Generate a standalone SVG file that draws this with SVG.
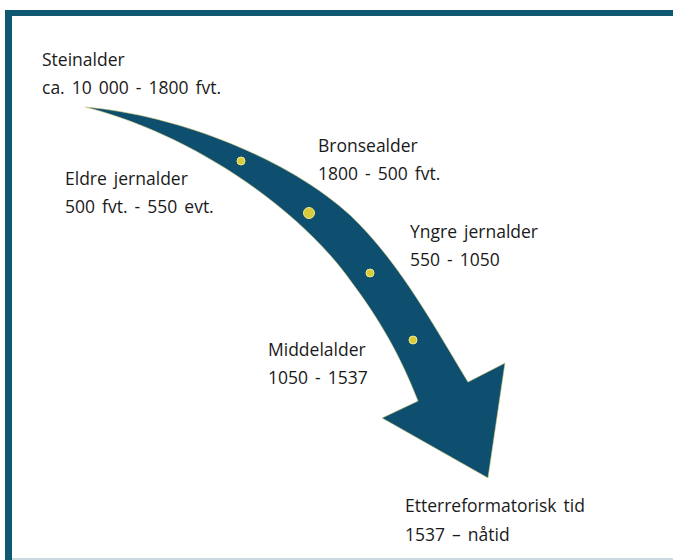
<svg xmlns="http://www.w3.org/2000/svg" width="673" height="560" viewBox="0 0 673 560">
<style>
.lbl{font-family:"Open Sans","Noto Sans","Liberation Sans",sans-serif;font-size:17.5px;fill:#1a1a1a;word-spacing:2.5px}
.dot{fill:#d8cc3c;stroke:#f0e890;stroke-width:1}
</style>
<rect x="0" y="0" width="673" height="560" fill="#ffffff"/>
<g id="frame">
<rect x="5" y="10" width="668" height="6" fill="#0f5872"/>
<rect x="5" y="10" width="7" height="550" fill="#0f5872"/>
<rect x="12" y="558" width="661" height="2" fill="#c9d9e2"/>
</g>
<g id="connectors">
<path id="arrow" d="M85,107 C180,115 290,160 350,215 C395,258 425,310 468,382 L505,363 L488,478 L382,418 L418,401 C400,355 380,320 350,280 C300,210 195,135 85,107 Z" fill="#0e4e6e" stroke="#d8d27a" stroke-width="0.6"/>
<circle class="dot" cx="241" cy="161" r="4"/>
<circle class="dot" cx="309" cy="213" r="5.5"/>
<circle class="dot" cx="370" cy="273" r="4"/>
<circle class="dot" cx="413" cy="340" r="4"/>
</g>
<g id="steinalder"><text class="lbl" x="42" y="66">Steinalder</text><text class="lbl" x="42" y="94">ca. 10 000 - 1800 fvt.</text></g>
<g id="eldre-jernalder"><text class="lbl" x="65" y="185">Eldre jernalder</text><text class="lbl" x="65" y="213">500 fvt. - 550 evt.</text></g>
<g id="bronsealder"><text class="lbl" x="318" y="152">Bronsealder</text><text class="lbl" x="318" y="180">1800 - 500 fvt.</text></g>
<g id="yngre-jernalder"><text class="lbl" x="410" y="238">Yngre jernalder</text><text class="lbl" x="410" y="266">550 - 1050</text></g>
<g id="middelalder"><text class="lbl" x="268" y="356">Middelalder</text><text class="lbl" x="268" y="384">1050 - 1537</text></g>
<g id="etterreformatorisk"><text class="lbl" x="405" y="512">Etterreformatorisk tid</text><text class="lbl" x="405" y="541">1537 – nåtid</text></g>
</svg>
